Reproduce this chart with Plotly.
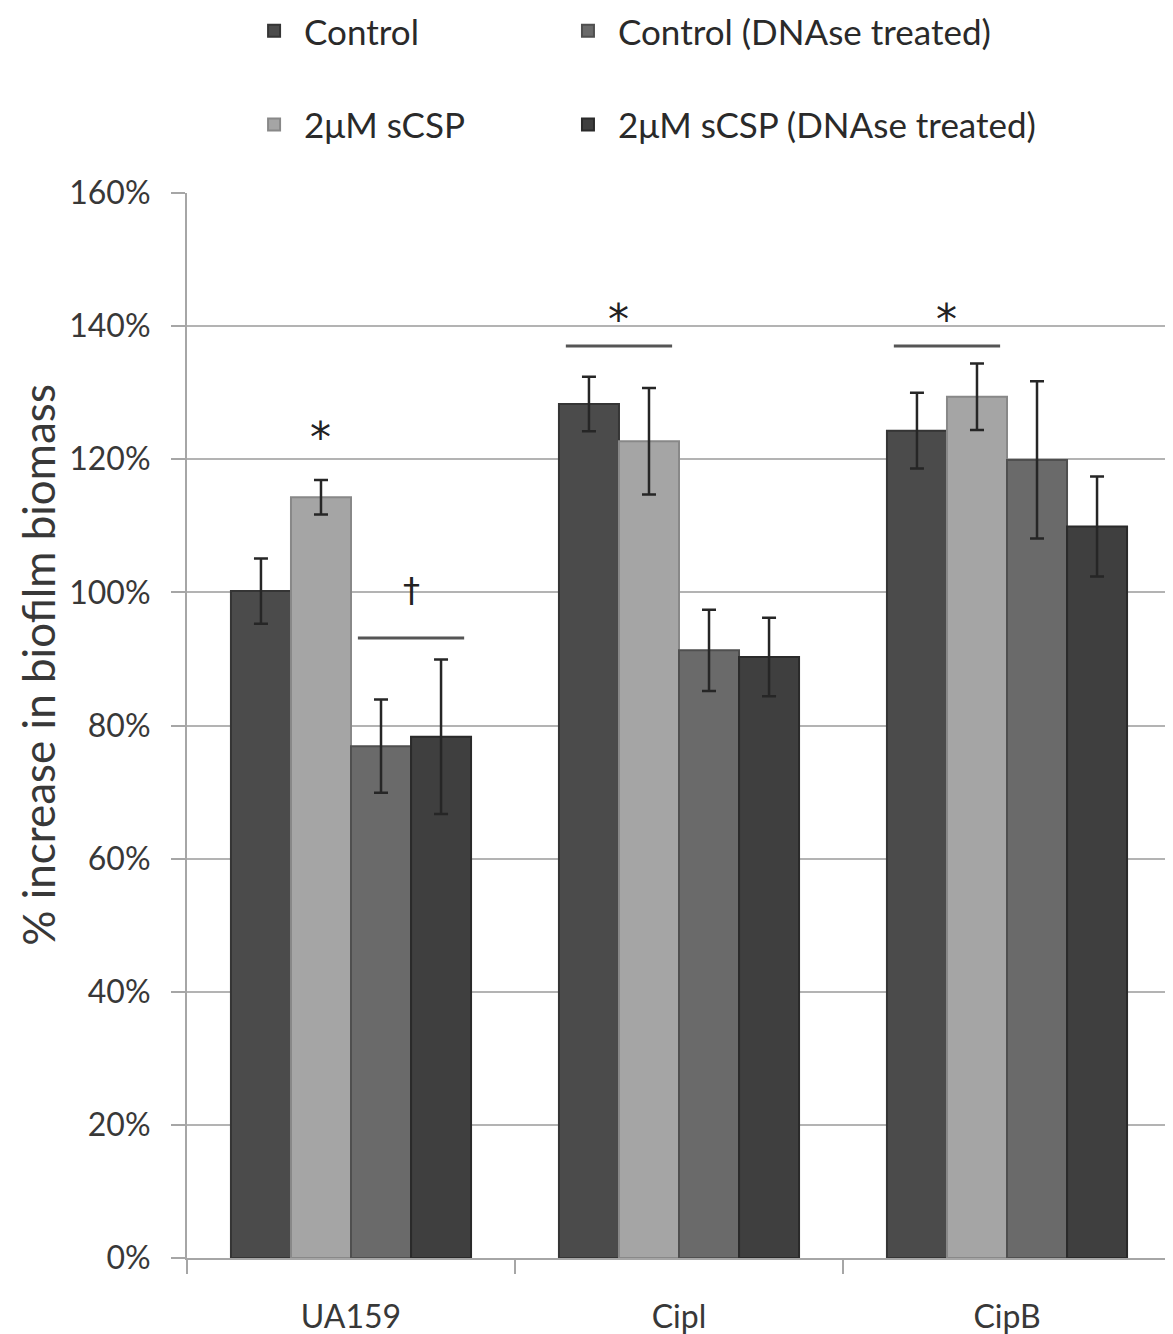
import plotly.graph_objects as go

categories = ["UA159", "CipI", "CipB"]
cat_labels = ["UA159", "Cipl", "CipB"]
y_ticks = [0, 0.2, 0.4, 0.6, 0.8, 1.0, 1.2, 1.4, 1.6]
y_tick_labels = ["0%", "20%", "40%", "60%", "80%", "100%", "120%", "140%", "160%"]

control = [1.002, 1.283, 1.243]
scsp = [1.143, 1.227, 1.294]
control_dnase = [0.769, 0.913, 1.199]
scsp_dnase = [0.783, 0.903, 1.099]

control_err = [0.049, 0.041, 0.057]
scsp_err = [0.026, 0.080, 0.050]
control_dnase_err = [0.070, 0.061, 0.118]
scsp_dnase_err = [0.116, 0.059, 0.075]

series_names = ["Control", "2\u03bcM sCSP", "Control (DNAse treated)", "2\u03bcM sCSP (DNAse treated)"]
series_vals = [control, scsp, control_dnase, scsp_dnase]
series_errs = [control_err, scsp_err, control_dnase_err, scsp_dnase_err]
colors = ["#4b4b4b", "#a5a5a5", "#6a6a6a", "#3f3f3f"]
edge_colors = ["#353535", "#888888", "#4f4f4f", "#2a2a2a"]
legend_ids = ["legend", "legend3", "legend2", "legend4"]

# significance marks: (group index, first bar index, second bar index, symbol, symbol y, line y)
sig_marks = [
    (0, 1, 1, "*", 1.232, None),
    (0, 2, 3, "\u2020", 1.003, 0.9315),
    (1, 0, 1, "*", 1.410, 1.370),
    (2, 0, 1, "*", 1.410, 1.370),
]

BARGAP = 0.268
NB = 4
bw = (1 - BARGAP) / NB

FONT = "Lato"
TXT = "#383838"

fig = go.Figure()
for name, vals, errs, col, ecol, lg in zip(series_names, series_vals, series_errs, colors, edge_colors, legend_ids):
    fig.add_trace(go.Bar(
        x=categories, y=vals, name=name, legend=lg,
        marker=dict(color=col, line=dict(color=ecol, width=2)),
        error_y=dict(type="data", array=errs, visible=True, color="#262626", thickness=2.5, width=7),
    ))

for g, b1, b2, sym, sy, ly in sig_marks:
    c1 = g + (-1.5 + b1) * bw
    c2 = g + (-1.5 + b2) * bw
    cx = (c1 + c2) / 2
    if sym == "*":
        f = dict(family="DejaVu Sans", size=42, color="#222222")
    else:
        f = dict(family="DejaVu Sans", size=34, color="#222222")
    fig.add_annotation(x=cx, y=sy, xref="x", yref="y", text=sym, showarrow=False,
                       font=f, xanchor="center", yanchor="middle")
    if ly is not None:
        half = 0.162
        fig.add_shape(type="line", xref="x", yref="y", x0=cx - half, x1=cx + half, y0=ly, y1=ly,
                      line=dict(color="#555555", width=3))

fig.add_annotation(x=-0.1514, y=0.557, xref="paper", yref="paper",
                   text="% increase in biofilm biomass", textangle=-90, showarrow=False,
                   font=dict(family=FONT, size=44, color=TXT), xanchor="center", yanchor="middle")

leg_common = dict(orientation="h", xanchor="left", yanchor="middle", itemwidth=50,
                  font=dict(family=FONT, size=35, color="#2a2a2a"), bgcolor="rgba(0,0,0,0)")
col1_x, col2_x = 0.058, 0.377
row1_y, row2_y = 1.152, 1.064

# page body adds an 8px margin, so the figure is drawn 8px smaller
fig.update_layout(
    width=1165, height=1326,
    margin=dict(l=179, r=2, t=185, b=76, autoexpand=False),
    paper_bgcolor="white", plot_bgcolor="white",
    barmode="group", bargap=BARGAP, bargroupgap=0,
    font=dict(family=FONT, color=TXT, size=32),
    showlegend=True,
    legend=dict(x=col1_x, y=row1_y, **leg_common),
    legend2=dict(x=col2_x, y=row1_y, **leg_common),
    legend3=dict(x=col1_x, y=row2_y, **leg_common),
    legend4=dict(x=col2_x, y=row2_y, **leg_common),
)
fig.update_xaxes(
    type="category", tickvals=categories, ticktext=cat_labels, automargin=False,
    showline=True, linecolor="#a6a6a6", linewidth=2,
    ticks="outside", tickson="boundaries", ticklen=14, tickcolor="#a6a6a6", tickwidth=2,
    tickfont=dict(family=FONT, size=32, color=TXT), ticklabelstandoff=30,
    showgrid=False, range=[-0.5, 2.5],
)
fig.update_yaxes(
    range=[0, 1.6], tickvals=y_ticks, ticktext=y_tick_labels, automargin=False,
    showline=True, linecolor="#a6a6a6", linewidth=2,
    ticks="outside", ticklen=14, tickcolor="#a6a6a6", tickwidth=2,
    showgrid=True, gridcolor="#b3b3b3", gridwidth=2, zeroline=False,
    tickfont=dict(family=FONT, size=32, color=TXT), ticklabelstandoff=14,
)

fig.write_html("out.html")
